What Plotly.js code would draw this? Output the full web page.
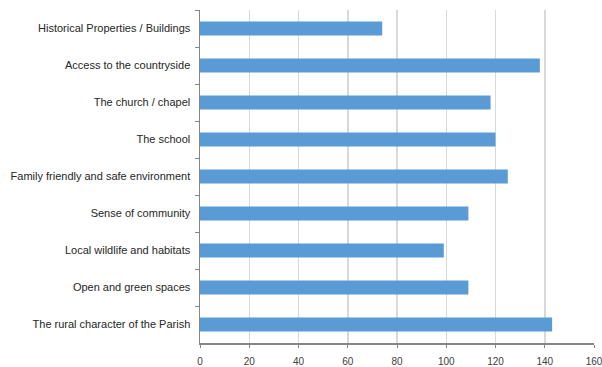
<!DOCTYPE html>
<html>
<head>
<meta charset="utf-8">
<script src="https://cdn.plot.ly/plotly-3.0.1.min.js"></script>
<style>html,body{margin:0;padding:0;background:#fff;}#chart{width:602px;height:367px;}</style>
</head>
<body>
<div id="chart"></div>
<script>
const categories = [
  "Historical Properties / Buildings",
  "Access to the countryside",
  "The church / chapel",
  "The school",
  "Family friendly and safe environment",
  "Sense of community",
  "Local wildlife and habitats",
  "Open and green spaces",
  "The rural character of the Parish"
];
const values = [74, 138, 118, 120, 125, 109, 99, 109, 143];
const xTicks = [0, 20, 40, 60, 80, 100, 120, 140, 160];

const trace = {
  type: "bar",
  orientation: "h",
  y: categories,
  x: values,
  marker: {color: "#5b9bd5"},
  hoverinfo: "x+y"
};

const layout = {
  width: 602,
  height: 367,
  margin: {l: 200, r: 8, t: 10, b: 24},
  paper_bgcolor: "#ffffff",
  plot_bgcolor: "#ffffff",
  bargap: 0.62,
  showlegend: false,
  font: {family: "Liberation Sans, Arial, sans-serif", size: 11, color: "#262626"},
  xaxis: {
    range: [0, 160],
    tickvals: xTicks,
    ticktext: xTicks.map(String),
    showgrid: true,
    gridcolor: "#d9d9d9",
    gridwidth: 1.5,
    zeroline: false,
    showline: true,
    linecolor: "#868686",
    linewidth: 2,
    ticks: "outside",
    ticklen: 3,
    tickcolor: "#868686",
    ticklabelstandoff: 5,
    ticklabeloverflow: "allow",
    automargin: false,
    tickfont: {size: 10, color: "#404040"}
  },
  yaxis: {
    type: "category",
    autorange: "reversed",
    showgrid: false,
    zeroline: false,
    showline: true,
    linecolor: "#868686",
    linewidth: 1.5,
    ticks: "outside",
    tickson: "boundaries",
    ticklen: 4,
    tickcolor: "#868686",
    ticklabelstandoff: 6,
    tickfont: {size: 11, color: "#262626"}
  }
};

Plotly.newPlot("chart", [trace], layout, {displayModeBar: false, staticPlot: true});
</script>
</body>
</html>
